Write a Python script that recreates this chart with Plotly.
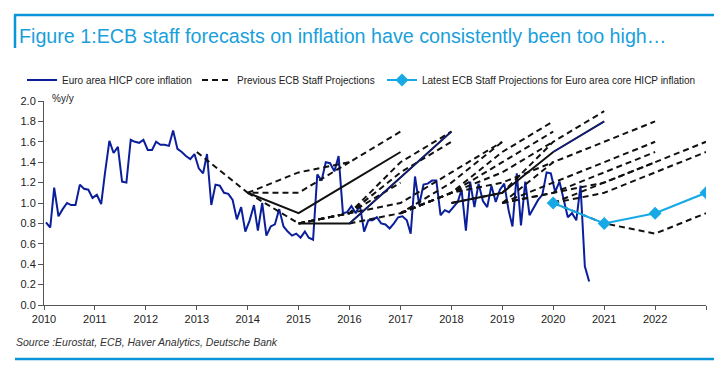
import pandas as pd
import plotly.graph_objects as go

# ---------------- data ----------------
# Euro area HICP core inflation, monthly from Jan 2010 (%y/y)
core_start = "2010-01-01"
core_values = [
    0.81, 0.76, 1.15, 0.87, 0.94, 1.00, 0.98, 0.98, 1.18, 1.14, 1.13, 1.05,   # 2010
    1.08, 0.99, 1.30, 1.61, 1.49, 1.55, 1.21, 1.20, 1.62, 1.60, 1.59, 1.62,   # 2011
    1.52, 1.52, 1.60, 1.57, 1.57, 1.56, 1.71, 1.53, 1.50, 1.46, 1.43, 1.48,   # 2012
    1.34, 1.29, 1.48, 0.98, 1.18, 1.17, 1.10, 1.09, 1.03, 0.84, 0.96, 0.72,   # 2013
    0.83, 0.98, 0.73, 1.00, 0.68, 0.77, 0.79, 0.94, 0.77, 0.72, 0.68, 0.70,   # 2014
    0.66, 0.72, 0.66, 0.64, 1.28, 1.22, 1.40, 1.39, 1.31, 1.46, 0.90, 0.91,   # 2015
    0.97, 0.90, 0.98, 0.72, 0.83, 0.83, 0.86, 0.80, 0.79, 0.75, 0.80, 0.86,   # 2016
    0.87, 0.83, 0.70, 1.26, 0.98, 1.18, 1.19, 1.22, 1.22, 0.88, 0.93, 0.91,   # 2017
    0.96, 1.01, 1.13, 0.73, 1.21, 0.96, 1.19, 1.02, 0.96, 1.17, 1.01, 1.13,   # 2018
    1.19, 0.93, 0.77, 1.29, 0.78, 1.21, 0.88, 0.96, 1.03, 1.08, 1.30, 1.29,   # 2019
    1.11, 1.21, 1.03, 0.86, 0.90, 0.83, 1.17, 0.38, 0.23,                     # 2020
]

# Previous ECB staff projections (annual values, plotted at year end)
proj_dec13_years = [2013, 2014, 2015, 2016]
proj_dec13_vals = [1.5, 1.1, 1.1, 1.4]
proj_mar14_years = [2014, 2015, 2016, 2017]
proj_mar14_vals = [1.1, 1.3, 1.4, 1.7]
proj_sep14_years = [2014, 2015, 2016, 2017]
proj_sep14_vals = [1.1, 0.9, 1.2, 1.5]
proj_dec14_years = [2014, 2015, 2016, 2017]
proj_dec14_vals = [1.1, 0.8, 0.9, 1.2]
proj_mar15_years = [2015, 2016, 2017, 2018]
proj_mar15_vals = [0.8, 0.8, 1.25, 1.7]
proj_jun15_years = [2015, 2016, 2017, 2018]
proj_jun15_vals = [0.8, 0.9, 1.4, 1.7]
proj_sep15_years = [2015, 2016, 2017, 2018]
proj_sep15_vals = [0.8, 0.9, 1.3, 1.6]
proj_dec15_years = [2015, 2016, 2017, 2018, 2019]
proj_dec15_vals = [0.8, 0.9, 1.0, 1.3, 1.6]
proj_sep16_years = [2016, 2017, 2018, 2019]
proj_sep16_vals = [0.8, 0.9, 1.2, 1.6]
proj_dec16_years = [2017, 2018, 2019, 2020]
proj_dec16_vals = [0.9, 1.1, 1.4, 1.7]
proj_mar17_years = [2017, 2018, 2019, 2020]
proj_mar17_vals = [0.9, 1.1, 1.5, 1.8]
proj_jun17_years = [2017, 2018, 2019, 2020]
proj_jun17_vals = [0.9, 1.1, 1.3, 1.6]
proj_sep17_years = [2017, 2018, 2019, 2020]
proj_sep17_vals = [0.9, 1.1, 1.2, 1.4]
proj_dec17_years = [2018, 2019, 2020, 2021]
proj_dec17_vals = [1.0, 1.1, 1.5, 1.8]
proj_jun18_years = [2018, 2019, 2020, 2021]
proj_jun18_vals = [1.0, 1.1, 1.6, 1.9]
proj_dec18_years = [2019, 2020, 2021, 2022]
proj_dec18_vals = [1.0, 1.4, 1.6, 1.8]
proj_mar19_years = [2019, 2020, 2021, 2022]
proj_mar19_vals = [1.0, 1.2, 1.4, 1.6]
proj_jun19_years = [2019, 2020, 2021, 2022]
proj_jun19_vals = [1.0, 1.1, 1.3, 1.5]
proj_sep19_years = [2019, 2020, 2021, 2022]
proj_sep19_vals = [1.0, 1.1, 1.2, 1.4]
proj_dec19_years = [2020, 2021, 2022, 2023]
proj_dec19_vals = [1.0, 1.2, 1.4, 1.6]
proj_mar20_years = [2020, 2021, 2022, 2023]
proj_mar20_vals = [1.0, 1.1, 1.3, 1.5]
proj_jun20_years = [2020, 2021, 2022, 2023]
proj_jun20_vals = [1.0, 0.8, 0.7, 0.9]

# Latest ECB staff projections
latest_years = [2020, 2021, 2022, 2023]
latest_vals = [1.0, 0.8, 0.9, 1.1]

tick_years = list(range(2010, 2024))
tick_labels = [str(y) for y in range(2010, 2023)] + [""]

# ---------------- figure ----------------
NAVY = "#0c1f9b"
CYAN = "#17a9e6"
FRAME = "#0a97d9"
DASH = "6px,4px"


def ydates(years):
    return [f"{y}-01-01" for y in years]


core_dates = pd.date_range(core_start, periods=len(core_values), freq="MS") + pd.Timedelta(days=14)

fig = go.Figure()

fig.add_trace(go.Scatter(
    x=core_dates, y=core_values, mode="lines", name="Euro area HICP core inflation",
    line=dict(color=NAVY, width=2), legend="legend", hoverinfo="skip"))

projections = [
    (proj_dec13_years, proj_dec13_vals, "dash"),
    (proj_mar14_years, proj_mar14_vals, "dash"),
    (proj_sep14_years, proj_sep14_vals, "solid"),
    (proj_dec14_years, proj_dec14_vals, "dash"),
    (proj_mar15_years, proj_mar15_vals, "solid"),
    (proj_jun15_years, proj_jun15_vals, "dash"),
    (proj_sep15_years, proj_sep15_vals, "dash"),
    (proj_dec15_years, proj_dec15_vals, "dash"),
    (proj_sep16_years, proj_sep16_vals, "dash"),
    (proj_dec16_years, proj_dec16_vals, "dash"),
    (proj_mar17_years, proj_mar17_vals, "dash"),
    (proj_jun17_years, proj_jun17_vals, "dash"),
    (proj_sep17_years, proj_sep17_vals, "dash"),
    (proj_dec17_years, proj_dec17_vals, "solid"),
    (proj_jun18_years, proj_jun18_vals, "dash"),
    (proj_dec18_years, proj_dec18_vals, "dash"),
    (proj_mar19_years, proj_mar19_vals, "dash"),
    (proj_jun19_years, proj_jun19_vals, "dash"),
    (proj_sep19_years, proj_sep19_vals, "dash"),
    (proj_dec19_years, proj_dec19_vals, "dash"),
    (proj_mar20_years, proj_mar20_vals, "dash"),
    (proj_jun20_years, proj_jun20_vals, "dash"),
]

first = True
for yrs, vals, style in projections:
    fig.add_trace(go.Scatter(
        x=ydates(yrs), y=vals, mode="lines",
        name="Previous ECB Staff Projections",
        line=dict(color="#111111", width=2, dash=DASH if style == "dash" else "solid"),
        legend="legend2", legendgroup="prev", showlegend=(style == "dash" and first),
        hoverinfo="skip"))
    if style == "dash" and first:
        first = False

# navy tint on two solid vintages (as in the original)
fig.add_trace(go.Scatter(
    x=ydates(proj_mar15_years[1:]), y=proj_mar15_vals[1:], mode="lines",
    line=dict(color=NAVY, width=1.2), showlegend=False, hoverinfo="skip"))
fig.add_trace(go.Scatter(
    x=ydates(proj_dec17_years[2:]), y=proj_dec17_vals[2:], mode="lines",
    line=dict(color=NAVY, width=1.2), showlegend=False, hoverinfo="skip"))

fig.add_trace(go.Scatter(
    x=ydates(latest_years), y=latest_vals, mode="lines+markers",
    name="Latest ECB Staff Projections for Euro area core HICP inflation",
    line=dict(color=CYAN, width=2),
    marker=dict(symbol="diamond", size=10, color=CYAN),
    legend="legend3", hoverinfo="skip"))

# The page body adds an 8px offset, so the figure is 8px smaller than the
# window and every target page position is measured in page pixels.
# Plot area in page pixels: x 44..706, y 101..305
def px(x):
    return (x - 44) / 662.0


def py(y):
    return (305 - y) / 204.0


legend_common = dict(
    orientation="h", yanchor="middle", y=py(80), xanchor="left",
    font=dict(size=10, color="#222222"), bgcolor="rgba(0,0,0,0)",
    borderwidth=0, itemwidth=30, tracegroupgap=0)

fig.update_layout(
    width=714, height=363,
    margin=dict(l=36, r=16, t=93, b=66, autoexpand=False),
    paper_bgcolor="white", plot_bgcolor="white",
    font=dict(family="Liberation Sans, Arial, sans-serif", color="#222222"),
    legend=dict(x=px(22), **legend_common),
    legend2=dict(x=px(197), **legend_common),
    legend3=dict(x=px(382), **legend_common),
    xaxis=dict(
        type="date", range=["2010-01-01", "2023-01-01"],
        tickvals=ydates(tick_years), ticktext=tick_labels,
        showline=True, linecolor="#555555", linewidth=1,
        ticks="outside", ticklen=4, tickcolor="#555555",
        showgrid=False, zeroline=False,
        tickfont=dict(size=11, color="#222222")),
    yaxis=dict(
        range=[0, 2], dtick=0.2, tickformat=".1f",
        showline=True, linecolor="#555555", linewidth=1,
        ticks="outside", ticklen=5, tickcolor="#555555",
        showgrid=False, zeroline=False,
        tickfont=dict(size=11, color="#222222")),
    annotations=[
        dict(text="Figure 1:ECB staff forecasts on inflation have consistently been too high…",
             xref="paper", yref="paper", x=px(17), y=py(36), xanchor="left", yanchor="middle",
             showarrow=False, font=dict(size=19.7, color="#1a9fdb")),
        dict(text="%y/y", xref="paper", yref="paper", x=px(50), y=py(98),
             xanchor="left", yanchor="middle", showarrow=False,
             font=dict(size=10, color="#222222")),
        dict(text="<i>Source :Eurostat, ECB, Haver Analytics, Deutsche Bank</i>",
             xref="paper", yref="paper", x=px(14), y=py(342), xanchor="left", yanchor="middle",
             showarrow=False, font=dict(size=10.5, color="#333333")),
    ],
    shapes=[
        dict(type="line", xref="paper", yref="paper", x0=px(14), x1=px(722), y0=py(15), y1=py(15),
             line=dict(color=FRAME, width=2.5)),
        dict(type="line", xref="paper", yref="paper", x0=px(15), x1=px(15), y0=py(15), y1=py(48),
             line=dict(color=FRAME, width=2.5)),
        dict(type="line", xref="paper", yref="paper", x0=px(15), x1=px(719), y0=py(359), y1=py(359),
             line=dict(color=FRAME, width=2.5)),
        dict(type="line", xref="paper", yref="paper", x0=px(719), x1=px(719), y0=py(334), y1=py(359),
             line=dict(color=FRAME, width=2.5)),
    ],
)

fig.write_html("out.html")
